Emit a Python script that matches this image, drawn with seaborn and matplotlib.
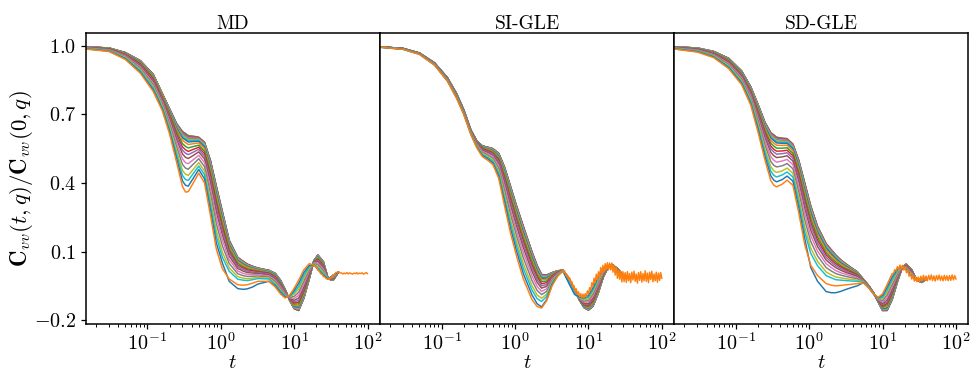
import numpy as np
import pandas as pd
import matplotlib
matplotlib.use("Agg")
import matplotlib.pyplot as plt
import seaborn as sns

# time grid shared by all smooth curves
times = [0.015, 0.03, 0.05, 0.08, 0.12, 0.16, 0.2, 0.25, 0.3, 0.33, 0.36, 0.43, 0.5, 0.6,
         0.72, 0.87, 1.05, 1.3, 1.7, 2.0, 2.3, 2.7, 3.2, 3.8, 4.5, 5.5, 6.5, 7.5, 8.7, 10,
         11.5, 13.5, 16, 18.5, 21, 25, 29, 34, 40]

# one row per time, one column per curve q00..q21 (values x 1000)
md_rows = [
    [995,995,995,995,995,995,995,994,994,994,994,993,993,992,992,991,990,989,988,987,986,985],
    [990,990,990,990,990,990,989,989,989,989,988,988,987,986,985,984,982,981,979,978,976,975],
    [970,970,970,970,969,969,969,968,968,967,967,965,963,962,960,958,955,952,949,946,943,940],
    [935,935,934,934,934,933,933,932,931,930,929,926,923,920,916,912,907,902,896,891,885,880],
    [875,875,874,874,873,873,872,871,870,868,866,863,858,854,849,844,837,830,822,815,807,800],
    [790,790,789,789,788,788,787,786,785,783,781,778,773,769,764,759,752,745,737,730,722,715],
    [725,724,724,723,723,722,721,719,717,715,712,707,701,694,688,680,670,659,647,637,626,615],
    [660,659,658,657,657,655,653,651,648,645,640,633,623,612,602,590,575,558,539,524,507,490],
    [625,624,623,621,620,618,615,612,608,603,597,587,572,558,543,527,505,481,455,433,409,385],
    [616,615,614,612,611,609,606,603,599,594,588,576,560,545,530,512,489,465,438,415,390,360],
    [607,606,605,603,602,600,597,594,590,585,579,568,553,538,524,507,484,460,433,411,386,362],
    [604,603,602,601,600,598,596,593,590,586,581,572,560,548,536,522,504,485,463,445,425,405],
    [600,599,598,598,597,595,594,591,589,586,582,575,565,556,547,536,521,506,489,474,459,443],
    [578,577,576,575,574,573,571,568,566,562,558,550,539,528,517,505,489,471,452,436,418,400],
    [500,499,498,496,495,493,490,487,483,478,472,462,447,433,418,402,380,356,330,308,284,260],
    [385,384,382,381,379,377,374,370,366,360,353,341,324,308,291,272,247,220,190,165,137,110],
    [275,274,272,271,270,267,265,261,257,252,246,235,220,205,190,172,150,125,97,75,50,25],
    [150,149,148,147,147,145,143,141,138,135,130,123,113,102,92,80,65,48,29,14,-30,-20],
    [75,74,74,73,73,71,70,68,67,64,61,56,49,41,34,26,15,3,-10,-21,-62,-45],
    [58,58,57,57,56,55,54,52,51,49,46,42,35,29,22,15,5,-5,-16,-25,-65,-47],
    [45,45,44,44,43,42,41,40,39,37,35,31,25,20,14,8,0,-9,-19,-27,-63,-45],
    [36,36,35,35,35,34,33,32,31,30,28,25,20,16,11,6,-1,-8,-16,-23,-55,-38],
    [28,28,27,27,27,26,26,25,24,23,21,19,15,12,8,4,-1,-7,-13,-18,-42,-30],
    [23,23,22,22,22,21,21,20,19,18,16,14,11,8,5,1,-4,-9,-15,-19,-36,-30],
    [18,18,18,17,17,17,16,15,15,14,12,10,7,5,2,-2,-6,-11,-16,-20,-30,-30],
    [5,5,4,4,4,3,3,2,1,0,-2,-5,-8,-12,-15,-20,-25,-31,-38,-43,-49,-55],
    [-25,-25,-26,-26,-26,-27,-27,-28,-29,-30,-32,-35,-38,-42,-45,-50,-55,-61,-68,-73,-79,-85],
    [-65,-65,-65,-66,-66,-66,-67,-67,-68,-68,-69,-71,-73,-76,-78,-81,-84,-88,-92,-95,-99,-103],
    [-115,-115,-115,-115,-114,-114,-114,-114,-113,-113,-112,-111,-109,-108,-106,-105,-102,-100,-97,-95,-92,-90],
    [-150,-150,-149,-149,-148,-147,-146,-145,-144,-142,-140,-136,-130,-125,-119,-113,-105,-96,-86,-78,-69,-60],
    [-158,-157,-157,-156,-155,-154,-153,-151,-149,-146,-143,-137,-129,-121,-113,-103,-91,-78,-64,-52,-38,-25],
    [-105,-104,-104,-103,-102,-101,-100,-98,-96,-94,-91,-85,-77,-70,-62,-54,-42,-30,-16,-5,8,20],
    [-20,-20,-19,-19,-19,-18,-17,-16,-15,-14,-12,-9,-5,-1,3,7,14,20,28,34,40,47],
    [60,60,60,60,60,59,59,59,59,58,58,57,56,54,53,52,50,48,46,44,42,40],
    [85,85,84,84,84,83,82,81,80,79,77,74,70,65,61,56,50,43,35,29,22,15],
    [55,55,54,54,54,53,52,51,50,49,48,45,41,37,33,28,22,16,9,3,-4,-10],
    [-20,-20,-20,-20,-20,-20,-20,-20,-20,-20,-20,-20,-20,-20,-20,-20,-20,-20,-20,-20,-20,-20],
    [-25,-25,-25,-25,-24,-24,-24,-24,-23,-23,-22,-21,-19,-18,-16,-15,-12,-10,-7,-5,-2,0],
    [10,10,10,10,10,10,10,10,10,10,10,10,10,10,10,10,10,10,10,10,10,10],
]

si_rows = [
    [995,995,995,995,995,995,995,995,995,995,995,995,995,995,995,995,994,994,994,993,993,993],
    [988,988,988,988,988,988,988,988,988,988,988,987,987,987,987,986,986,986,985,985,984,984],
    [968,968,968,968,968,968,968,968,968,967,967,967,967,966,966,966,965,964,964,963,963,962],
    [925,925,925,925,925,925,925,924,924,924,924,923,923,922,922,921,920,919,918,917,916,915],
    [860,860,860,860,860,860,859,859,859,859,858,858,857,856,855,854,852,851,849,848,846,845],
    [790,790,790,790,790,789,789,789,789,788,788,787,786,784,783,782,780,778,776,774,772,770],
    [720,720,720,720,720,719,719,719,719,718,718,717,716,714,713,712,710,708,706,704,702,700],
    [632,632,632,632,632,631,631,631,631,630,630,629,628,626,625,624,622,620,618,616,614,612],
    [585,585,585,585,584,584,584,583,583,582,582,580,578,577,575,573,570,567,564,561,558,555],
    [572,572,572,571,571,571,570,569,569,568,568,565,563,561,558,556,552,548,544,540,537,533],
    [562,562,562,561,561,561,560,559,559,558,557,554,552,549,546,543,538,534,529,524,520,515],
    [556,556,555,555,555,554,554,553,552,551,549,547,543,540,536,532,527,521,515,510,504,498],
    [550,550,549,549,549,548,547,546,545,544,542,539,535,530,526,521,515,508,500,494,487,480],
    [530,529,529,528,528,527,526,524,522,520,517,512,506,499,493,485,475,464,452,442,431,420],
    [470,469,468,467,467,465,463,461,458,455,450,443,433,422,412,400,385,368,349,334,317,300],
    [385,384,383,382,381,379,377,374,371,367,361,352,340,328,315,301,282,262,239,221,200,180],
    [300,299,298,297,296,293,291,288,285,280,275,265,252,238,225,210,190,168,144,124,102,80],
    [210,209,208,207,205,203,201,197,194,189,184,173,159,146,132,116,95,72,47,26,3,-20],
    [100,99,98,97,96,94,92,88,85,81,76,66,54,41,29,14,-5,-26,-49,-68,-89,-110],
    [40,39,38,37,36,34,32,29,26,23,18,10,0,-10,-22,-35,-52,-70,-90,-106,-128,-140],
    [0,-1,-1,-2,-3,-4,-6,-8,-10,-13,-17,-24,-32,-41,-50,-60,-74,-88,-104,-118,-142,-147],
    [-2,-3,-3,-4,-5,-6,-7,-9,-11,-13,-16,-22,-29,-36,-44,-52,-63,-74,-86,-96,-110,-115],
    [8,8,7,7,7,6,6,5,4,3,1,-1,-5,-8,-12,-16,-21,-27,-33,-38,-44,-50],
    [16,16,16,16,16,15,15,15,14,14,13,12,10,9,7,5,3,0,-2,-4,-6,-8],
    [18,18,18,18,18,18,18,18,18,18,18,18,17,17,17,17,16,16,16,16,15,15],
    [-20,-20,-20,-20,-21,-21,-21,-21,-22,-22,-23,-24,-26,-27,-29,-30,-33,-35,-38,-40,-43,-45],
    [-65,-65,-65,-65,-66,-66,-66,-66,-67,-67,-68,-69,-71,-72,-74,-75,-78,-80,-83,-85,-88,-90],
    [-110,-110,-110,-110,-110,-110,-109,-109,-109,-109,-109,-108,-107,-106,-106,-105,-103,-102,-101,-100,-98,-97],
    [-145,-145,-145,-144,-144,-144,-143,-142,-142,-141,-140,-137,-135,-132,-129,-126,-121,-117,-112,-107,-103,-98],
    [-156,-156,-155,-155,-155,-154,-153,-152,-151,-150,-148,-145,-140,-136,-132,-127,-120,-113,-106,-99,-92,-85],
    [-140,-140,-139,-139,-138,-137,-136,-135,-134,-132,-130,-126,-120,-115,-109,-103,-95,-86,-76,-68,-59,-50],
    [-85,-85,-84,-84,-83,-83,-82,-81,-79,-78,-76,-72,-67,-63,-58,-52,-45,-37,-28,-21,-13,-5],
    [-10,-10,-10,-9,-9,-9,-8,-8,-7,-7,-6,-4,-2,1,3,6,9,13,17,20,24,28],
    [30,30,30,30,30,30,30,31,31,31,31,32,32,33,33,34,35,36,37,38,39,40],
    [43,43,43,43,43,43,43,43,42,42,42,42,41,41,40,40,39,38,37,37,36,35],
    [25,25,25,25,25,25,24,24,24,24,24,23,22,21,21,20,18,17,16,15,13,12],
    [0,0,0,0,0,0,0,0,-1,-1,-1,-1,-2,-2,-3,-3,-4,-5,-6,-6,-7,-8],
    [-12,-12,-12,-12,-12,-12,-12,-12,-12,-12,-12,-12,-12,-12,-12,-12,-12,-12,-12,-12,-12,-12],
    [-12,-12,-12,-12,-12,-12,-12,-12,-12,-12,-12,-12,-12,-12,-12,-12,-12,-12,-12,-12,-12,-12],
]

sd_rows = [
    [995,995,995,995,995,995,995,994,994,994,994,993,993,992,992,991,990,989,988,987,986,985],
    [990,990,990,990,990,989,989,989,989,988,988,987,986,985,984,983,981,979,977,976,974,972],
    [975,975,975,975,974,974,974,974,973,973,972,971,969,967,966,964,961,959,956,953,951,948],
    [945,945,945,944,944,944,943,943,942,941,940,938,935,932,930,927,922,918,913,909,904,900],
    [890,890,889,889,889,888,888,887,886,885,883,880,877,873,870,865,860,854,847,842,836,830],
    [820,820,819,819,818,818,817,816,814,813,811,807,802,798,793,787,780,772,763,756,748,740],
    [745,744,744,743,743,741,740,738,737,734,731,726,719,711,704,696,685,673,660,649,637,625],
    [665,664,663,663,662,660,658,656,653,650,646,639,629,619,609,597,582,566,548,533,516,500],
    [620,619,618,617,616,614,612,608,605,601,596,586,574,561,549,534,515,494,471,452,431,410],
    [610,609,608,607,606,603,601,598,595,590,585,574,561,547,535,519,499,477,453,433,412,390],
    [600,599,598,597,596,593,591,588,585,580,575,565,552,539,526,511,491,470,446,426,405,383],
    [596,595,594,593,592,590,588,585,582,578,573,564,552,540,528,514,496,475,453,435,415,395],
    [594,593,592,591,590,589,587,584,581,578,573,565,554,543,532,519,503,485,465,448,430,412],
    [570,569,568,567,566,565,563,560,557,554,549,541,530,519,508,496,480,462,442,426,408,390],
    [500,499,498,497,495,493,491,487,484,479,474,463,449,436,422,406,385,362,337,316,293,270],
    [400,399,397,396,395,392,389,385,381,376,369,357,341,324,308,289,265,238,208,184,157,130],
    [300,299,297,296,295,292,290,286,282,277,270,258,243,227,212,193,170,144,115,92,30,40],
    [210,209,208,207,206,204,201,198,195,191,185,176,163,150,137,122,102,81,57,38,-30,-5],
    [135,134,133,132,131,130,128,125,123,119,115,107,96,86,75,63,47,30,11,-5,-75,-40],
    [108,107,106,105,104,103,101,98,96,93,89,82,72,63,54,44,30,15,-2,-15,-80,-47],
    [85,84,84,83,82,81,80,78,76,73,69,63,55,47,39,30,17,4,-11,-23,-80,-50],
    [63,63,62,62,61,60,59,57,56,53,50,45,38,32,25,18,7,-3,-15,-25,-74,-48],
    [45,45,44,44,43,42,41,40,39,37,35,31,25,20,14,8,0,-9,-19,-27,-65,-45],
    [28,28,27,27,27,26,25,24,23,22,20,17,13,9,4,0,-7,-14,-22,-29,-57,-43],
    [12,12,11,11,11,10,10,9,8,7,6,4,1,-3,-6,-9,-14,-19,-25,-30,-50,-40],
    [-22,-22,-22,-22,-22,-22,-23,-23,-23,-23,-24,-25,-26,-26,-27,-29,-30,-32,-33,-35,-36,-38],
    [-50,-50,-50,-50,-50,-50,-50,-51,-51,-51,-51,-52,-52,-53,-53,-54,-55,-56,-57,-58,-59,-60],
    [-80,-80,-80,-80,-80,-80,-80,-80,-80,-80,-80,-81,-81,-81,-82,-82,-83,-83,-84,-84,-85,-85],
    [-120,-120,-120,-120,-120,-119,-119,-119,-119,-118,-118,-117,-116,-114,-113,-112,-110,-108,-106,-104,-102,-100],
    [-158,-158,-157,-157,-157,-156,-155,-154,-153,-151,-150,-146,-142,-138,-133,-128,-121,-114,-106,-100,-92,-85],
    [-158,-157,-157,-156,-156,-155,-153,-152,-150,-148,-145,-140,-133,-126,-120,-112,-101,-90,-78,-68,-56,-45],
    [-110,-109,-109,-108,-108,-107,-106,-104,-102,-100,-97,-92,-86,-79,-73,-65,-55,-44,-32,-22,-11,0],
    [-30,-30,-29,-29,-29,-28,-28,-27,-26,-25,-23,-20,-17,-13,-10,-5,0,6,13,18,24,30],
    [30,30,30,30,30,30,30,30,30,30,30,31,31,31,31,32,32,32,33,33,34,34],
    [45,45,45,45,44,44,44,44,43,43,42,41,39,38,36,35,32,30,27,25,22,20],
    [20,20,20,20,19,19,19,18,18,17,17,15,13,12,10,8,5,2,-1,-4,-7,-10],
    [-25,-25,-25,-25,-25,-25,-25,-25,-25,-25,-24,-24,-24,-24,-23,-23,-22,-22,-21,-21,-20,-20],
    [-35,-35,-35,-35,-35,-34,-34,-34,-34,-33,-33,-32,-31,-30,-29,-28,-26,-25,-23,-21,-20,-18],
    [-20,-20,-20,-20,-20,-20,-20,-20,-20,-20,-19,-19,-19,-19,-18,-18,-17,-17,-16,-16,-16,-15],
]

# noisy long-time part of the last curve (values x 1000), sampled evenly in log t
md_tail = [41, 35, 32, 18, 14, 3, 0, -10, -11, -19, -18, -22, -14, -12, -2, 0, 9, 8, 12, 6,
           7, 2, 6, 3, 8, 2, 7, 4, 1, 6, 3, 8, 2, 6, 4, 7, 1, 5, 8, 3]
si_tail = [18, 6, 11, -7, -2, -20, -15, -37, -31, -56,
           -50, -74, -63, -87, -76, -97, -84, -103, -86, -103,
           -84, -97, -72, -86, -58, -70, -36, -53, -16, -36,
           1, -25, 12, -13, 30, 4, 40, 11, 47, 20,
           51, 20, 50, 20, 50, 10, 40, -3, 32, -17,
           18, -21, 14, -33, 12, -31, 8, -35, 12, -28,
           4, -36, 10, -24, 14, -30, 2, -38, 8, -26,
           12, -34, 4, -28, 16, -30, 6, -36, 10, -22,
           14, -32, 2, -28, 10, -34, 6, -26, 8, -18]
sd_tail = [4, 3, 21, 15, 34, 22, 41, 25, 40, 19,
           32, 7, 19, -8, 6, -20, -6, -29, -10, -32,
           -11, -32, -8, -28, -4, -25, -7, -28, -4, -24,
           -2, -27, -6, -29, -5, -24, -3, -26, -7, -28,
           -4, -25, -6, -27, -5, -26, -2, -24, -5, -21]
md_tail_span = (18.5, 100)
si_tail_span = (4.5, 100)
sd_tail_span = (13.5, 100)
md_cut, si_cut, sd_cut = 33, 24, 31   # grid points of the last curve before its tail

titles = ["MD", "SI-GLE", "SD-GLE"]
y_ticks = [-0.2, 0.1, 0.4, 0.7, 1.0]

sns.set_theme(style="ticks")
plt.rcParams.update({
    "font.family": "serif",
    "font.serif": ["cmr10"],
    "mathtext.fontset": "cm",
    "axes.formatter.use_mathtext": True,
    "axes.unicode_minus": True,
    "font.size": 14,
    "xtick.labelsize": 14.5,
    "ytick.labelsize": 14.5,
    "axes.titlesize": 14,
    "axes.labelsize": 15,
    "axes.edgecolor": "black",
    "axes.linewidth": 1.1,
    "text.color": "black",
    "axes.labelcolor": "black",
    "xtick.color": "black",
    "ytick.color": "black",
    "xtick.major.size": 3.5,
    "ytick.major.size": 3.5,
    "xtick.minor.size": 2.0,
    "xtick.major.width": 0.9,
    "ytick.major.width": 0.9,
    "xtick.minor.width": 0.7,
    "xtick.major.pad": 2.0,
    "axes.grid": False,
})

fig, axes = plt.subplots(1, 3, figsize=(9.71, 3.74), dpi=100, sharey=True)
fig.subplots_adjust(left=0.0883, right=0.9972, bottom=0.1329, top=0.9126, wspace=0)

tab = sns.color_palette("tab10")
names = [f"q{k:02d}" for k in range(22)]
pal = {n: tab[k % 10] for k, n in enumerate(names)}

panels = [
    (md_rows, md_tail, md_tail_span, md_cut),
    (si_rows, si_tail, si_tail_span, si_cut),
    (sd_rows, sd_tail, sd_tail_span, sd_cut),
]

for ax, title, (rows, tail, span, cut) in zip(axes, titles, panels):
    arr = np.array(rows, dtype=float) / 1000.0
    frames = []
    for k, name in enumerate(names):
        if k < len(names) - 1:
            tt = list(times)
            vv = list(arr[:, k])
        else:
            tail_t = np.geomspace(span[0], span[1], len(tail))
            tt = list(times[:cut]) + list(tail_t)
            vv = list(arr[:cut, k]) + [v / 1000.0 for v in tail]
        frames.append(pd.DataFrame({"t": tt, "C": vv, "curve": name}))
    df = pd.concat(frames, ignore_index=True)
    sns.lineplot(data=df, x="t", y="C", hue="curve", hue_order=names, palette=pal,
                 legend=False, estimator=None, sort=False, linewidth=1.05, ax=ax)
    ax.set_xscale("log")
    ax.set_xlim(0.01445, 146.9)
    ax.set_ylim(-0.218, 1.057)
    ax.set_title(title, pad=3)
    ax.set_xlabel(r"$t$")
    ax.xaxis.set_label_coords(0.5, -0.103)
    ax.set_ylabel("")
    for s in ax.spines.values():
        s.set_visible(True)

axes[0].set_yticks(y_ticks)
axes[0].set_ylabel(r"$\mathbf{C}_{vv}(t,q)/\mathbf{C}_{vv}(0,q)$", fontsize=16.5)
axes[0].yaxis.set_label_coords(-0.173, 0.5)
for ax in axes[1:]:
    ax.tick_params(axis="y", left=False, labelleft=False)

fig.savefig("out.png", dpi=100)
